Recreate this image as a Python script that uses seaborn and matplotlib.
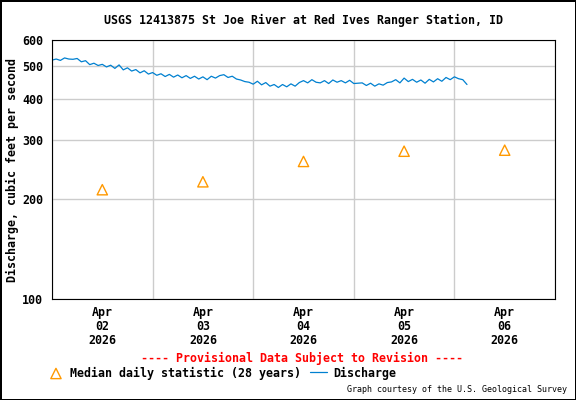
#import modules
import pandas as pd
import seaborn as sns
import matplotlib.pyplot as plt
import matplotlib.dates as mdates
from matplotlib.ticker import FixedLocator, NullLocator, NullFormatter

#hourly discharge (cubic feet per second), starting Apr 02 00:00
discharge_start = "2026-04-02 00:00"
discharge = [522, 526, 521, 530, 526, 525, 528, 516, 520, 506,
             511, 503, 507, 498, 504, 493, 505, 488, 495, 484,
             489, 478, 485, 474, 479, 470, 475, 466, 473, 464,
             471, 462, 469, 460, 467, 458, 465, 456, 467, 461,
             469, 472, 463, 467, 458, 455, 450, 448, 442, 451,
             440, 447, 436, 441, 432, 441, 434, 443, 436, 447,
             453, 446, 456, 448, 446, 453, 444, 455, 448, 453,
             446, 454, 444, 445, 446, 438, 445, 436, 443, 439,
             447, 449, 456, 446, 461, 450, 457, 448, 455, 445,
             457, 449, 459, 451, 463, 456, 465, 459, 456, 441]

#median daily statistic (28 years)
median_days = ["2026-04-02 12:00", "2026-04-03 12:00", "2026-04-04 12:00",
               "2026-04-05 12:00", "2026-04-06 12:00"]
median_cfs = [213, 225, 259, 278, 280]

#axis ticks and labels
y_ticks = [100, 200, 300, 400, 500, 600]
day_labels = ["Apr\n02\n2026", "Apr\n03\n2026", "Apr\n04\n2026", "Apr\n05\n2026", "Apr\n06\n2026"]

fs = 8.4
sns.set_theme(style="white")
plt.rcParams["font.family"] = ["DejaVu Sans Mono"]
plt.rcParams["font.weight"] = "bold"
plt.rcParams["axes.labelweight"] = "bold"
plt.rcParams["font.size"] = fs
for k in ["axes.labelsize", "xtick.labelsize", "ytick.labelsize", "legend.fontsize", "axes.titlesize"]:
    plt.rcParams[k] = fs
for k in ["text.color", "axes.labelcolor", "xtick.color", "ytick.color"]:
    plt.rcParams[k] = "black"

flow = pd.DataFrame({"time": pd.date_range(discharge_start, periods=len(discharge), freq="h"),
                     "cfs": discharge})
med = pd.DataFrame({"time": pd.to_datetime(median_days), "cfs": median_cfs})

fig = plt.figure(figsize=(5.76, 4.0), dpi=100)
fig.patch.set_edgecolor("black")
fig.patch.set_linewidth(2)
ax = fig.add_axes([52/576, 1 - 299/400, 503/576, 259/400])

sns.lineplot(data=flow, x="time", y="cfs", ax=ax, color="#0080d0", linewidth=0.9, label="Discharge")
sns.scatterplot(data=med, x="time", y="cfs", ax=ax, marker="^", s=55, facecolors="none",
                edgecolors="#ff9900", linewidth=1.0, label="Median daily statistic (28 years)", zorder=3)

#log y axis
ax.set_yscale("log")
ax.set_ylim(100, 600)
ax.yaxis.set_major_locator(FixedLocator(y_ticks))
ax.yaxis.set_minor_locator(NullLocator())
ax.yaxis.set_minor_formatter(NullFormatter())
ax.set_yticklabels([str(t) for t in y_ticks])

#x axis: labels at noon, grid at midnight
ax.set_xlim(pd.Timestamp("2026-04-02"), pd.Timestamp("2026-04-07"))
ax.xaxis.set_major_locator(FixedLocator(mdates.date2num(pd.to_datetime(median_days))))
ax.set_xticklabels(day_labels, linespacing=1.12)
ax.xaxis.set_minor_locator(mdates.DayLocator())
ax.grid(which="minor", axis="x", color="#cccccc", linewidth=1.0)
ax.grid(which="major", axis="y", color="#cccccc", linewidth=1.0)
ax.grid(which="major", axis="x", visible=False)
ax.tick_params(axis="both", which="both", length=0)
ax.tick_params(axis="x", pad=5)
ax.tick_params(axis="y", pad=6.5)

for s in ax.spines.values():
    s.set_color("black")
    s.set_linewidth(0.8)

ax.set_xlabel("")
ax.set_ylabel("Discharge, cubic feet per second", labelpad=2)

#title and notes
fig.text(303.5/576, 1 - 20/400, "USGS 12413875 St Joe River at Red Ives Ranger Station, ID",
         ha="center", va="center")
fig.text(301.6/576, 1 - 358/400, "---- Provisional Data Subject to Revision ----",
         ha="center", va="center", color="red")
fig.text(567/576, 1 - 390/400, "Graph courtesy of the U.S. Geological Survey",
         ha="right", va="center", fontsize=6, fontweight="normal")

#legend below the chart
handles, labels = ax.get_legend_handles_labels()
ax.get_legend().remove()
order = [labels.index("Median daily statistic (28 years)"), labels.index("Discharge")]
fig.legend([handles[i] for i in order], [labels[i] for i in order],
           loc="center left", bbox_to_anchor=(47.5/576, 1 - 373/400), ncol=2, frameon=False,
           borderpad=0, borderaxespad=0, handlelength=1.45, handletextpad=0.5, columnspacing=0.75)

plt.savefig("out.png", dpi=100)
plt.close()
